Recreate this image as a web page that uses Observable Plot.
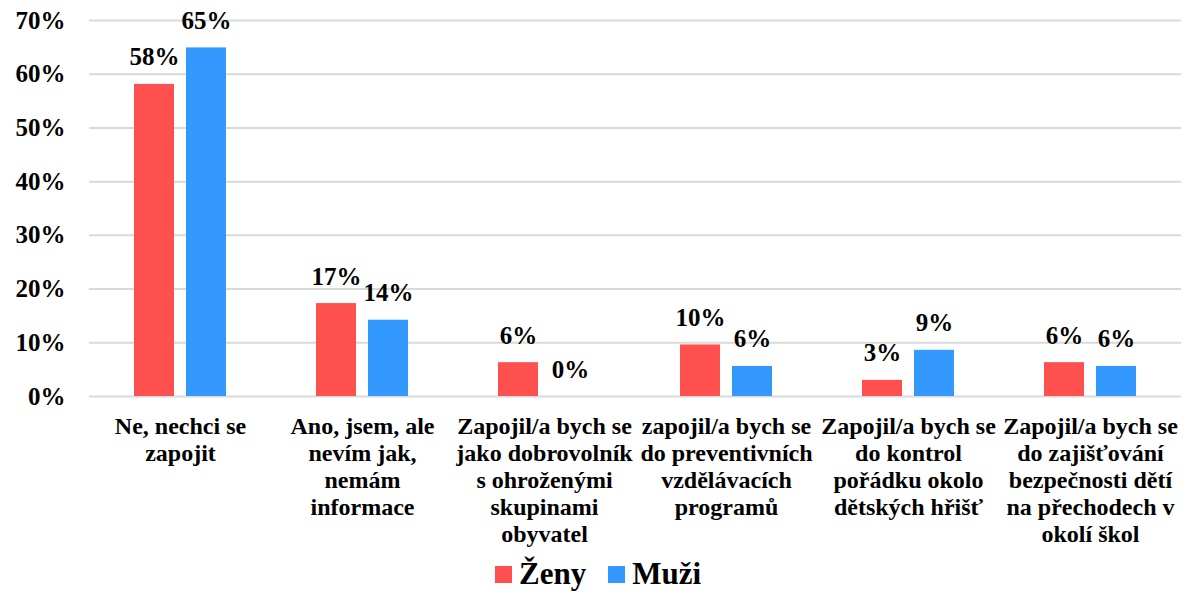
<!DOCTYPE html>
<html>
<head>
<meta charset="utf-8">
<script src="https://cdn.jsdelivr.net/npm/d3@7"></script>
<script src="https://cdn.jsdelivr.net/npm/@observablehq/plot@0.6"></script>
<style>
  html, body { margin: 0; padding: 0; background: #fff; overflow: hidden; }
  #legend { display: flex; justify-content: center; align-items: center; gap: 22px;
    font-family: "Liberation Serif", "Times New Roman", Times, "DejaVu Serif", serif; font-weight: bold; font-size: 31px;
    color: #000; height: 36px; padding-left: 6px; }
  .item { display: flex; align-items: center; gap: 7px; }
  .sw { width: 17px; height: 17px; display: inline-block; }
  svg text { font-family: "Liberation Serif", "Times New Roman", Times, "DejaVu Serif", serif !important; }
</style>
</head>
<body>
<div id="chart"></div>
<div id="legend"></div>
<script>
const categories = [
  "Ne, nechci se\nzapojit",
  "Ano, jsem, ale\nnevím jak,\nnemám\ninformace",
  "Zapojil/a bych se\njako dobrovolník\ns ohroženými\nskupinami\nobyvatel",
  "zapojil/a bych se\ndo preventivních\nvzdělávacích\nprogramů",
  "Zapojil/a bych se\ndo kontrol\npořádku okolo\ndětských hřišť",
  "Zapojil/a bych se\ndo zajišťování\nbezpečnosti dětí\nna přechodech v\nokolí škol"
];
const series = ["Ženy", "Muži"];
const zeny = [58.1, 17.3, 6.3, 9.6, 3.0, 6.3];
const muzi = [64.9, 14.2, 0, 5.6, 8.6, 5.6];
const colors = ["#FF5050", "#3399FF"];
const yTicks = [0, 10, 20, 30, 40, 50, 60, 70];

const data = categories.flatMap((c, i) => [
  {cat: c, s: series[0], v: zeny[i]},
  {cat: c, s: series[1], v: muzi[i]}
]);

const font = "Liberation Serif, Times New Roman, Times, DejaVu Serif, serif";
const H = 556;
const chart = Plot.plot({
  width: 1190,
  height: H,
  marginLeft: 87,
  marginRight: 7,
  marginTop: 20,
  marginBottom: H - 396,
  style: {fontFamily: font, fontWeight: "bold", background: "#fff", color: "#000"},
  fx: {domain: categories, padding: 0, label: null},
  x: {domain: series, axis: null, paddingInner: 0.226, paddingOuter: 0.84},
  y: {domain: [0, 70], label: null},
  color: {domain: series, range: colors},
  marks: [
    Plot.ruleY(yTicks, {stroke: "#d9d9d9", strokeWidth: 2}),
    Plot.barY(data, {fx: "cat", x: "s", y: "v", fill: "s"}),
    Plot.text(data, {fx: "cat", x: "s", y: "v", text: d => Math.round(d.v) + "%",
      lineAnchor: "bottom", dy: -19, fontSize: 25, fontWeight: "bold", fill: "#000"}),
    Plot.axisY({ticks: yTicks, tickFormat: d => d + "%", tickSize: 0, tickPadding: 24,
      fontSize: 25, label: null}),
    Plot.axisFx({anchor: "bottom", tickSize: 0, tickPadding: 18, fontSize: 24,
      lineHeight: 1.125, label: null, tickFormat: d => d})
  ]
});
document.getElementById("chart").appendChild(chart);

const legend = document.getElementById("legend");
series.forEach((s, i) => {
  const item = document.createElement("span");
  item.className = "item";
  const sw = document.createElement("span");
  sw.className = "sw";
  sw.style.background = colors[i];
  item.appendChild(sw);
  item.appendChild(document.createTextNode(s));
  legend.appendChild(item);
});
</script>
</body>
</html>
